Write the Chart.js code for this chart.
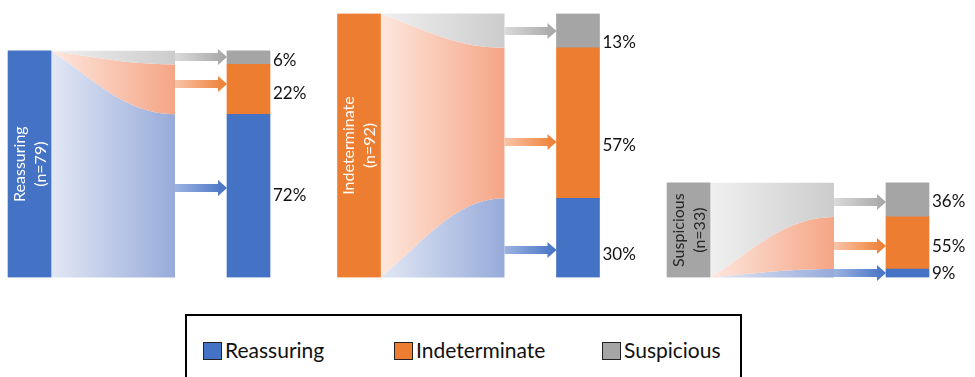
<!DOCTYPE html>
<html>
<head>
<meta charset="utf-8">
<script src="https://cdn.jsdelivr.net/npm/chart.js@4.4.1/dist/chart.umd.min.js"></script>
<style>
  html, body { margin: 0; padding: 0; background: #fff; }
  #wrap { position: relative; width: 975px; height: 377px; overflow: hidden; }
  #chart { position: absolute; left: 0; top: 0; }
  #legend {
    position: absolute; left: 185px; top: 314px; width: 557px; height: 100px;
    border: 2px solid #000; box-sizing: border-box; background: #fff;
    font-family: Lato, "DejaVu Sans", sans-serif; font-size: 21px; color: #111;
  }
  .item { position: absolute; top: 26px; height: 18px; display: flex; align-items: center; white-space: nowrap; }
  .swatch { width: 19px; height: 18px; box-sizing: border-box; border: 1.5px solid #222; }
  .item span { margin-left: 3px; line-height: 18px; position: relative; top: -1px; }
</style>
</head>
<body>
<div id="wrap">
  <canvas id="chart" width="975" height="377"></canvas>
  <div id="legend"></div>
</div>
<script>
// Outcome categories (stacked bottom-up) and the three starting groups
const categories = ['Reassuring', 'Indeterminate', 'Suspicious'];
const groupLabels = ['Reassuring', 'Indeterminate', 'Suspicious'];
const groupCounts = [79, 92, 33];

// Share of each starting group that ended in each outcome (%)
const toReassuring = [72, 30, 9];
const toIndeterminate = [22, 57, 55];
const toSuspicious = [6, 13, 36];

const shares = [toReassuring, toIndeterminate, toSuspicious];

// Colours
const solid = ['#4472C4', '#ED7D31', '#A5A5A5'];
const flowTint = [['#e2e7f4', '#97abda'], ['#fde7de', '#f5a585'], ['#f0f0f0', '#cccccc']];
const arrowTint = ['#9cb3e2', '#f9c4a8', '#dadada'];
const groupTextColor = ['#ffffff', '#ffffff', '#262626'];

// Horizontal layout, in x-axis units (one unit per group)
const X_MIN = -0.0243, X_MAX = 2.9348;
const SRC_CENTER = 0.0653;
const FLOW_END = 0.5068;
const RES_CENTER = 0.7299;
const BAR_PX = 43;

// Hand-tuned pixel nudges for arrows and % labels, [group][outcome]
const arrowNudge = [[-8, -5, -1], [12, 19, 0], [0, 3, 2]];
const labelNudge = [[0, 4, 3], [17, 22, 12], [0, 4, 2]];

const sourceData = groupCounts.map((n, g) => ({ x: g + SRC_CENTER, y: [0, n] }));

function outcomeData(cat) {
  return groupCounts.map((n, g) => {
    let lo = 0;
    for (let k = 0; k < cat; k++) lo += shares[k][g];
    const hi = lo + shares[cat][g];
    return { x: g + RES_CENTER, y: [n * lo / 100, n * hi / 100] };
  });
}

function ctrl(x0, yA, x1, yB) {
  const w = x1 - x0;
  return [x0 + 0.35 * w, yA + 0.45 * (yB - yA), x0 + 0.6 * w, yB];
}

// Gradient ribbons from each group bar to its outcomes
const flowPlugin = {
  id: 'flows',
  beforeDatasetsDraw(chart) {
    const { ctx, scales: { x, y } } = chart;
    const src = chart.getDatasetMeta(0).data;
    ctx.save();
    groupCounts.forEach((n, g) => {
      const x0 = src[g].x + src[g].width / 2;
      const x1 = x.getPixelForValue(g + FLOW_END);
      const R = [0];
      let acc = 0;
      for (let k = 0; k < 3; k++) { acc += shares[k][g]; R.push(n * acc / 100); }
      R[3] = n;
      const L = [0];
      for (let k = 1; k < 3; k++) L.push(k <= g ? 0 : n);
      L.push(n);
      for (let k = 0; k < 3; k++) {
        const yl0 = y.getPixelForValue(L[k]), yr0 = y.getPixelForValue(R[k]);
        const yl1 = y.getPixelForValue(L[k + 1]), yr1 = y.getPixelForValue(R[k + 1]);
        const grad = ctx.createLinearGradient(x0, 0, x1, 0);
        grad.addColorStop(0, flowTint[k][0]);
        grad.addColorStop(1, flowTint[k][1]);
        const c0 = ctrl(x0, yl0, x1, yr0);
        const c1 = ctrl(x0, yl1, x1, yr1);
        ctx.beginPath();
        ctx.moveTo(x0, yl0);
        ctx.bezierCurveTo(c0[0], c0[1], c0[2], c0[3], x1, yr0);
        ctx.lineTo(x1, yr1);
        ctx.bezierCurveTo(c1[2], c1[3], c1[0], c1[1], x0, yl1);
        ctx.closePath();
        ctx.fillStyle = grad;
        ctx.fill();
      }
    });
    ctx.restore();
  }
};

function drawArrow(ctx, xs, xe, yc, light, dark) {
  const shaft = 8, head = 16, headLen = 9;
  const xh = xe - headLen;
  const grad = ctx.createLinearGradient(xs, 0, xe, 0);
  grad.addColorStop(0, light);
  grad.addColorStop(1, dark);
  ctx.fillStyle = grad;
  ctx.beginPath();
  ctx.moveTo(xs, yc - shaft / 2);
  ctx.lineTo(xh, yc - shaft / 2);
  ctx.lineTo(xh, yc - head / 2);
  ctx.lineTo(xe, yc);
  ctx.lineTo(xh, yc + head / 2);
  ctx.lineTo(xh, yc + shaft / 2);
  ctx.lineTo(xs, yc + shaft / 2);
  ctx.closePath();
  ctx.fill();
}

// Arrows, percentage labels and the rotated group names
const annotatePlugin = {
  id: 'annotate',
  afterDatasetsDraw(chart) {
    const { ctx, scales: { x } } = chart;
    const src = chart.getDatasetMeta(0).data;
    ctx.save();
    groupCounts.forEach((n, g) => {
      const x1 = x.getPixelForValue(g + FLOW_END);
      for (let k = 0; k < 3; k++) {
        const bar = chart.getDatasetMeta(1 + k).data[g];
        const left = bar.x - bar.width / 2, right = bar.x + bar.width / 2;
        const yc = (bar.y + bar.base) / 2;
        drawArrow(ctx, x1, left, Math.round(yc + arrowNudge[g][k]), arrowTint[k], solid[k]);
        ctx.fillStyle = '#111';
        ctx.font = '17px Lato, "DejaVu Sans", sans-serif';
        ctx.textAlign = 'left';
        ctx.textBaseline = 'middle';
        ctx.fillText(shares[k][g] + '%', right + 3, yc + labelNudge[g][k]);
      }
      const s = src[g];
      const cy = (s.y + s.base) / 2;
      ctx.save();
      ctx.translate(s.x, cy);
      ctx.rotate(-Math.PI / 2);
      ctx.fillStyle = groupTextColor[g];
      ctx.font = '16px Lato, "DejaVu Sans", sans-serif';
      ctx.textAlign = 'center';
      ctx.textBaseline = 'middle';
      ctx.fillText(groupLabels[g], 0, -10);
      ctx.fillText('(n=' + n + ')', 0, 11);
      ctx.restore();
    });
    ctx.restore();
  }
};

const barCommon = {
  grouped: false,
  borderWidth: 0,
  maxBarThickness: BAR_PX,
  categoryPercentage: 1,
  barPercentage: 1
};

function build() {
  new Chart(document.getElementById('chart'), {
    type: 'bar',
    data: {
      datasets: [
        Object.assign({ label: 'Groups', data: sourceData, backgroundColor: groupCounts.map((_, g) => solid[g]) }, barCommon),
        ...categories.map((c, k) => Object.assign({ label: c, data: outcomeData(k), backgroundColor: solid[k] }, barCommon))
      ]
    },
    options: {
      responsive: false,
      animation: false,
      devicePixelRatio: 1,
      layout: { padding: { top: 13.5, bottom: 99.5, left: 0, right: 0 } },
      plugins: { legend: { display: false }, tooltip: { enabled: false } },
      scales: {
        x: { type: 'linear', min: X_MIN, max: X_MAX, offset: false, display: false, ticks: { stepSize: 1 }, grid: { display: false } },
        y: { type: 'linear', min: 0, max: Math.max(...groupCounts), display: false, grid: { display: false } }
      }
    },
    plugins: [flowPlugin, annotatePlugin]
  });

  const legend = document.getElementById('legend');
  const lefts = [16, 207, 415];
  categories.forEach((c, k) => {
    const item = document.createElement('div');
    item.className = 'item';
    item.style.left = lefts[k] + 'px';
    const sw = document.createElement('div');
    sw.className = 'swatch';
    sw.style.background = solid[k];
    const tx = document.createElement('span');
    tx.textContent = c;
    item.appendChild(sw);
    item.appendChild(tx);
    legend.appendChild(item);
  });
}

if (document.fonts && document.fonts.load) {
  Promise.all([document.fonts.load('17px Lato'), document.fonts.load('16px Lato')]).then(build, build);
} else {
  build();
}
</script>
</body>
</html>
